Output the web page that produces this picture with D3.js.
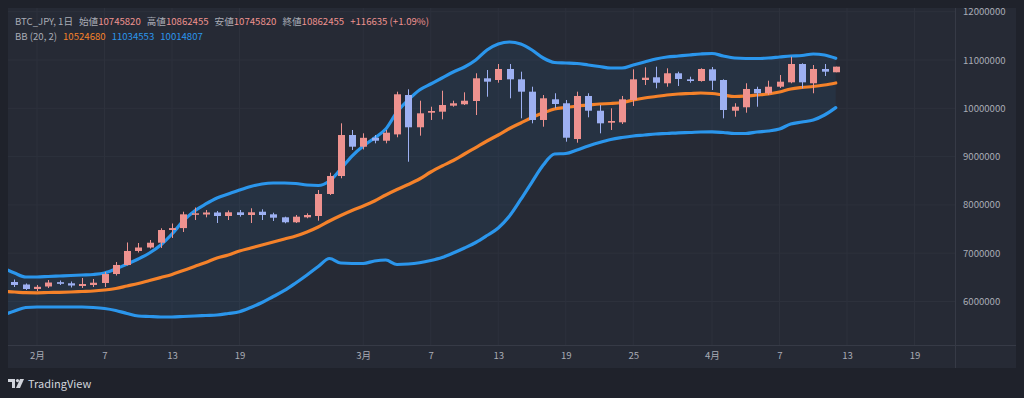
<!DOCTYPE html>
<html>
<head>
<meta charset="utf-8">
<script src="https://cdn.jsdelivr.net/npm/d3@7"></script>
<style>
html, body { margin: 0; padding: 0; background: #1f222b; }
svg { display: block; }
text { font-family: "Noto Sans CJK JP", "Noto Sans", sans-serif; }
</style>
</head>
<body>
<div id="chart"></div>
<script>
// daily BTC_JPY, 2024-01-29 .. 2024-04-12 (first day only has band values, its candle is off-screen)
const days = d3.utcDay.range(new Date(Date.UTC(2024, 0, 29)), new Date(Date.UTC(2024, 3, 13)));

const open = [
  null, 6404000, 6352000,
  6259000, 6311000, 6400000, 6377000, 6321000, 6342000, 6383000, 6569000, 6756000, 7046000,
  7118000, 7217000, 7480000, 7520000, 7800000, 7801000, 7843000, 7770000, 7847000, 7791000,
  7859000, 7805000, 7743000, 7640000, 7743000, 7770000, 8226000, 8598000, 9447000,
  9205000, 9391000, 9329000, 9460000, 10275000, 9607000, 9909000, 9930000, 10054000, 10083000,
  10151000, 10621000, 10586000, 10814000, 10600000, 10344000, 9758000, 10186000, 10104000, 9364000,
  10255000, 9950000, 9702000, 9710000, 10172000, 10586000, 10642000, 10518000, 10725000, 10600000, 10565000,
  10807000, 10586000, 9950000, 10021000, 10400000, 10311000, 10447000, 10538000, 10917000, 10518000, 10814000, 10745820
];
const high = [
  null, 6455000, 6373000,
  6342000, 6445000, 6435000, 6414000, 6487000, 6466000, 6611000, 6818000, 7222000, 7211000,
  7273000, 7516000, 7615000, 7859000, 7946000, 7894000, 7874000, 7884000, 7894000, 7930000,
  7909000, 7838000, 7756000, 7791000, 7826000, 8308000, 8667000, 9689000, 9551000,
  9482000, 9447000, 9551000, 10344000, 10393000, 10157000, 10033000, 10364000, 10157000, 10331000,
  10725000, 10793000, 10917000, 10917000, 10758000, 10447000, 10275000, 10311000, 10172000, 10344000,
  10311000, 10068000, 10000000, 10255000, 10807000, 10849000, 10861000, 10828000, 10758000, 10654000, 10828000,
  10855000, 10600000, 10104000, 10518000, 10447000, 10571000, 10689000, 11068000, 10932000, 10896000, 10917000, 10862455
];
const low = [
  null, 6300000, 6238000,
  6217000, 6280000, 6342000, 6290000, 6280000, 6300000, 6300000, 6538000, 6745000, 7014000,
  7097000, 7108000, 7315000, 7439000, 7687000, 7743000, 7625000, 7687000, 7756000, 7625000,
  7687000, 7667000, 7619000, 7625000, 7723000, 7673000, 8205000, 8551000, 9137000,
  9147000, 9275000, 9275000, 9400000, 8894000, 9433000, 9758000, 9772000, 10033000, 10068000,
  9861000, 10240000, 10530000, 10207000, 9793000, 9689000, 9619000, 10000000, 9309000, 9288000,
  9814000, 9482000, 9551000, 9675000, 10048000, 10482000, 10414000, 10447000, 10462000, 10530000, 10551000,
  10379000, 9793000, 9826000, 9909000, 10033000, 10275000, 10420000, 10518000, 10414000, 10311000, 10669000, 10745820
];
const close = [
  null, 6342000, 6259000,
  6304000, 6393000, 6366000, 6331000, 6362000, 6389000, 6569000, 6756000, 7046000, 7118000,
  7217000, 7480000, 7520000, 7805000, 7826000, 7843000, 7770000, 7847000, 7791000, 7847000,
  7791000, 7735000, 7640000, 7756000, 7791000, 8226000, 8598000, 9447000, 9205000,
  9389000, 9329000, 9495000, 10290000, 9607000, 9896000, 9944000, 10068000, 10104000, 10157000,
  10621000, 10551000, 10814000, 10600000, 10344000, 9758000, 10207000, 10089000, 9391000, 10255000,
  9950000, 9689000, 9737000, 10186000, 10600000, 10634000, 10530000, 10725000, 10607000, 10565000, 10814000,
  10571000, 9965000, 10033000, 10400000, 10311000, 10447000, 10551000, 10917000, 10538000, 10814000, 10758000, 10862455
];

// Bollinger Bands (20, 2) as drawn
const bbUpper = [
  6694000, 6590000, 6507000,
  6507000, 6518000, 6528000, 6538000, 6549000, 6559000, 6590000, 6673000, 6776000, 6880000,
  7004000, 7170000, 7398000, 7667000, 7874000, 8019000, 8143000, 8226000, 8308000, 8381000,
  8433000, 8453000, 8453000, 8443000, 8412000, 8402000, 8495000, 8743000, 9012000,
  9219000, 9385000, 9571000, 9923000, 10172000, 10379000, 10503000, 10627000, 10752000, 10855000,
  11000000, 11207000, 11331000, 11373000, 11331000, 11207000, 11041000, 10948000, 10938000, 10928000,
  10896000, 10865000, 10834000, 10834000, 10896000, 10959000, 11021000, 11062000, 11083000, 11104000, 11124000,
  11135000, 11083000, 11041000, 11031000, 11031000, 11041000, 11062000, 11083000, 11093000, 11124000, 11104000, 11034553
];
const bbBasis = [
  6207000, 6197000, 6182000,
  6180000, 6186000, 6190000, 6197000, 6207000, 6217000, 6238000, 6269000, 6321000, 6373000,
  6435000, 6497000, 6559000, 6642000, 6725000, 6807000, 6901000, 6963000, 7046000, 7108000,
  7170000, 7232000, 7294000, 7356000, 7439000, 7542000, 7667000, 7781000, 7884000,
  7977000, 8081000, 8205000, 8319000, 8422000, 8536000, 8681000, 8805000, 8919000, 9054000,
  9188000, 9323000, 9447000, 9582000, 9696000, 9810000, 9903000, 9986000, 10017000, 10048000,
  10068000, 10089000, 10099000, 10120000, 10172000, 10213000, 10244000, 10275000, 10296000, 10306000, 10317000,
  10306000, 10275000, 10244000, 10255000, 10275000, 10296000, 10337000, 10400000, 10431000, 10451000, 10482000, 10524680
];
const bbLower = [
  5720000, 5803000, 5876000,
  5886000, 5886000, 5886000, 5886000, 5886000, 5876000, 5855000, 5814000, 5752000, 5700000,
  5689000, 5679000, 5679000, 5689000, 5700000, 5710000, 5720000, 5752000, 5789000, 5876000,
  5979000, 6104000, 6228000, 6383000, 6549000, 6725000, 6890000, 6797000, 6787000,
  6787000, 6839000, 6859000, 6766000, 6776000, 6803000, 6849000, 6911000, 7004000, 7108000,
  7222000, 7366000, 7522000, 7770000, 8112000, 8474000, 8826000, 9054000, 9064000, 9137000,
  9219000, 9292000, 9354000, 9395000, 9427000, 9447000, 9468000, 9478000, 9493000, 9499000, 9509000,
  9513000, 9499000, 9478000, 9478000, 9509000, 9530000, 9571000, 9675000, 9716000, 9758000, 9861000, 10014807
];

const priceTicks = [6000000, 7000000, 8000000, 9000000, 10000000, 11000000, 12000000];
const timeTicks = ['2024-02-01', '2024-02-07', '2024-02-13', '2024-02-19', '2024-03-01', '2024-03-07',
  '2024-03-13', '2024-03-19', '2024-03-25', '2024-04-01', '2024-04-07', '2024-04-13', '2024-04-19'];
const monthNames = ['1月', '2月', '3月', '4月'];

const legendTop = [
  ['BTC_JPY, 1日', 'label'], ['始値', 'label'], ['10745820', 'value'], ['高値', 'label'], ['10862455', 'value'],
  ['安値', 'label'], ['10745820', 'value'], ['終値', 'label'], ['10862455', 'value'], ['+116635 (+1.09%)', 'value']
];
const legendBB = [['BB (20, 2)', 'label'], ['10524680', 'basis'], ['11034553', 'band'], ['10014807', 'band']];

const C = {
  panel: '#262a35', grid: '#2d313c', sep: '#363a46', text: '#a9acb5',
  up: '#ee928f', down: '#9db0f2', basis: '#f5822a', band: '#2b96ec', fill: 'rgba(43,150,236,0.07)'
};

const W = 1024, H = 398;
const plot = { l: 8, t: 8, r: 955, b: 345 };

const svg = d3.select('#chart').append('svg').attr('width', W).attr('height', H);

svg.append('rect').attr('x', 8).attr('y', 8).attr('width', 1008).attr('height', 360).attr('fill', C.panel);

const x = d3.scaleUtc()
  .domain([new Date(Date.UTC(2024, 1, 1)), new Date(Date.UTC(2024, 3, 19))])
  .range([37, 914.5]);
const y = d3.scaleLinear().domain([6000000, 12000000]).range([301.5, 11.7]);

const tickDates = timeTicks.map(s => new Date(s + 'T00:00:00Z'));

// grid
const grid = svg.append('g');
grid.selectAll('.hg').data(priceTicks).enter().append('line')
  .attr('x1', plot.l).attr('x2', plot.r).attr('y1', d => y(d)).attr('y2', d => y(d))
  .attr('stroke', C.grid).attr('stroke-width', 1);
grid.selectAll('.vg').data(tickDates).enter().append('line')
  .attr('x1', d => x(d)).attr('x2', d => x(d)).attr('y1', plot.t).attr('y2', plot.b)
  .attr('stroke', C.grid).attr('stroke-width', 1);

// separators
svg.append('line').attr('x1', plot.r + 0.5).attr('x2', plot.r + 0.5).attr('y1', 8).attr('y2', 368).attr('stroke', C.sep);
svg.append('line').attr('x1', 8).attr('x2', 1016).attr('y1', plot.b + 0.5).attr('y2', plot.b + 0.5).attr('stroke', C.sep);

svg.append('clipPath').attr('id', 'plotclip').append('rect')
  .attr('x', plot.l).attr('y', plot.t).attr('width', plot.r - plot.l).attr('height', plot.b - plot.t);
const g = svg.append('g').attr('clip-path', 'url(#plotclip)');

const idx = d3.range(days.length);

// band fill + lines
g.append('path').datum(idx)
  .attr('d', d3.area().x(i => x(days[i])).y0(i => y(bbLower[i])).y1(i => y(bbUpper[i])).curve(d3.curveMonotoneX))
  .attr('fill', C.fill);

const line = arr => d3.line().x(i => x(days[i])).y(i => y(arr[i])).curve(d3.curveMonotoneX);
[[bbUpper, C.band], [bbLower, C.band], [bbBasis, C.basis]].forEach(([arr, col]) => {
  g.append('path').datum(idx).attr('d', line(arr)).attr('fill', 'none')
    .attr('stroke', col).attr('stroke-width', 3.2).attr('stroke-linejoin', 'round').attr('stroke-linecap', 'round');
});

// candles
const candles = idx.filter(i => open[i] !== null);
const bw = 7;
const cg = g.selectAll('.candle').data(candles).enter().append('g');
cg.append('line')
  .attr('x1', i => Math.round(x(days[i])) + 0.5).attr('x2', i => Math.round(x(days[i])) + 0.5)
  .attr('y1', i => y(high[i])).attr('y2', i => y(low[i]))
  .attr('stroke', i => close[i] >= open[i] ? C.up : C.down).attr('stroke-width', 1);
cg.append('rect')
  .attr('x', i => Math.round(x(days[i])) + 0.5 - bw / 2)
  .attr('y', i => y(Math.max(open[i], close[i])))
  .attr('width', bw)
  .attr('height', i => Math.max(1.5, Math.abs(y(open[i]) - y(close[i]))))
  .attr('fill', i => close[i] >= open[i] ? C.up : C.down);

// price axis
const yAxis = svg.append('g').attr('transform', `translate(${plot.r},0)`)
  .call(d3.axisRight(y).tickValues(priceTicks).tickFormat(d3.format('d')).tickSize(0).tickPadding(8));
yAxis.select('.domain').remove();
yAxis.selectAll('text').attr('fill', C.text).attr('font-size', '9.6px')
  .attr('font-family', '"Noto Sans", sans-serif');

// time axis
const xAxis = svg.append('g').attr('transform', `translate(0,${plot.b})`)
  .call(d3.axisBottom(x).tickValues(tickDates)
    .tickFormat(d => d.getUTCDate() === 1 ? monthNames[d.getUTCMonth()] : String(d.getUTCDate()))
    .tickSize(0).tickPadding(7));
xAxis.select('.domain').remove();
xAxis.selectAll('text').attr('fill', C.text).attr('font-size', '9.6px');

// top strip covers the upper part of the 12000000 label, as in the reference
svg.append('rect').attr('x', 0).attr('y', 0).attr('width', W).attr('height', 8).attr('fill', '#1f222b');

// legend
const colorOf = k => ({ label: C.text, value: C.up, basis: C.basis, band: C.band })[k];
function legend(items, yy) {
  const t = svg.append('text').attr('x', 15).attr('y', yy).attr('font-size', '9.6px');
  items.forEach(([s, k], j) => {
    const gap = j === 0 ? 0 : (k === 'value' && s[0] !== '+' ? 0 : 6);
    t.append('tspan').attr('dx', gap).attr('fill', colorOf(k)).text(s);
  });
}
legend(legendTop, 24.5);
legend(legendBB, 39.5);

// TradingView mark
const logo = svg.append('g').attr('fill', '#d1d4dc');
logo.append('path').attr('d', 'M8 379h7v9h-3v-6h-4z');
logo.append('circle').attr('cx', 17.5).attr('cy', 380.6).attr('r', 1.6);
logo.append('path').attr('d', 'M20 379h4l-4 9h-4z');
svg.append('text').attr('x', 28).attr('y', 388).attr('font-size', '11px').attr('fill', '#d1d4dc')
  .attr('font-family', '"Noto Sans", sans-serif').text('TradingView');
</script>
</body>
</html>
